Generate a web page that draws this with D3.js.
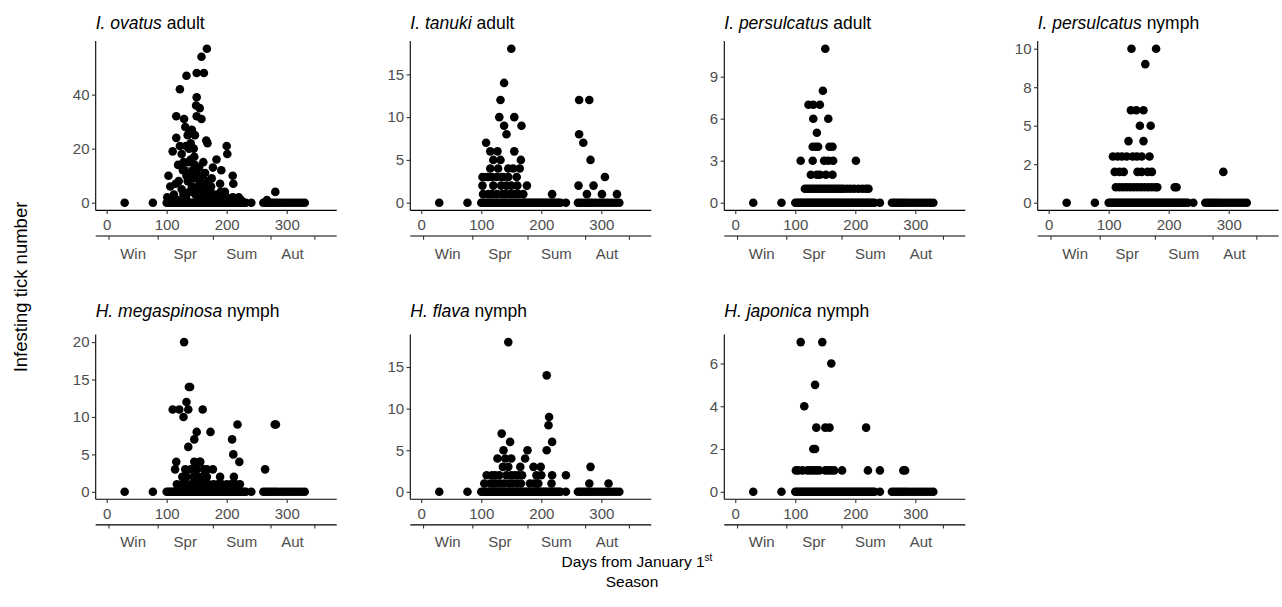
<!DOCTYPE html>
<html>
<head>
<meta charset="utf-8">
<script src="https://cdn.jsdelivr.net/npm/d3@7"></script>
<style>
  body { margin: 0; background: #fff; }
  text { font-family: "Liberation Sans", Arial, sans-serif; }
</style>
</head>
<body>
<div id="chart"></div>
<script>
// sampling days (every host examined, count 0 unless listed below)
var surveyDays = [30, 77, 100, 103, 106, 109, 112, 115, 118, 121, 124, 127, 130, 133, 136, 139, 142, 145, 148, 151,
  154, 157, 160, 163, 166, 169, 172, 175, 178, 181, 184, 187, 190, 193, 196, 199, 202, 205, 208, 211, 214, 217,
  220, 223, 226, 229, 232, 241, 261, 265, 269, 273, 277, 281, 285, 290, 295, 300, 305, 310, 315, 320, 325, 330];

var dayTicks = [0, 100, 200, 300];
var seasonBreaks = [3, 85, 177, 273, 346];
var seasonLabels = ["Win", "Spr", "Sum", "Aut"];

// [day, ticks] for hosts with at least one tick
var ovatusAdult = [[167,57],[158,54],[150,48],[162,48],[133,47],[122,42],[150,39],[149,36],[155,35],[116,32],
  [129,31],[150,32],[158,31],[131,28],[142,27],[147,25],[166,23],[168,22],[116,24],[110,19],[122,21],[132,21],
  [200,21],[201,18],[183,16],[177,13],[191,12],[119,14],[210,10],[211,7],[103,10],[106,6],[115,7],[189,7],
  [197,4],[101,2],[281,4],[267,1],[125,18],[128,15],[130,12],[133,10],[135,8],[137,20],[140,16],[143,12],
  [145,9],[147,14],[150,11],[152,6],[155,8],[157,5],[160,10],[162,4],[165,7],[168,3],[170,2],[172,5],[175,9],
  [178,1],[180,3],[185,2],[190,4],[195,1],[200,2],[205,1],[210,2],[215,1],[220,2],[125,5],[128,3],[132,2],
  [138,4],[142,6],[148,3],[153,2],[158,1],[163,2],[118,1],[120,8],[135,25],[138,26],[145,20],[140,22],[143,4],
  [127,12],[136,15],[141,10],[146,17],[154,13],[161,15],[164,11],[170,8],[174,6],[112,3],[108,1],[224,1]];

var tanukiAdult = [[150,18],[138,14],[132,12],[130,10],[155,10],[138,9],[167,9],[142,8],[108,7],[115,6],[127,6],
  [155,6],[120,5],[132,5],[166,5],[115,4],[128,4],[153,4],[164,4],[102,3],[109,3],[126,3],[137,3],[159,3],
  [102,2],[120,2],[142,2],[176,2],[103,1],[126,1],[148,1],[170,1],[218,1],[263,12],[280,12],[263,8],[270,7],
  [282,5],[262,2],[287,2],[306,3],[276,1],[301,1],[326,1],[112,3],[118,3],[145,3],[150,2],[160,2],[133,2],
  [112,1],[118,1],[135,1],[140,1],[155,1],[162,1],[145,4],[134,3]];

var persulcatusAdult = [[150,11],[146,8],[122,7],[130,7],[141,7],[130,6],[155,6],[136,5],[129,4],[138,4],[157,4],
  [162,4],[109,3],[129,3],[148,3],[163,3],[201,3],[126,2],[136,2],[151,2],[162,2],[141,2],[116,1],[120,1],
  [124,1],[128,1],[132,1],[136,1],[140,1],[144,1],[148,1],[152,1],[156,1],[160,1],[164,1],[168,1],[172,1],
  [176,1],[180,1],[186,1],[192,1],[198,1],[205,1],[212,1],[218,1],[222,1],[134,4],[155,3]];

var persulcatusNymph = [[138,10],[179,10],[161,9],[137,6],[146,6],[158,6],[152,5],[170,5],[133,4],[158,4],
  [107,3],[115,3],[122,3],[130,3],[140,3],[147,3],[155,3],[168,3],[110,2],[118,2],[125,2],[148,2],[155,2],
  [165,2],[172,2],[112,1],[118,1],[124,1],[130,1],[136,1],[142,1],[148,1],[154,1],[160,1],[166,1],[172,1],
  [178,1],[181,1],[210,1],[213,1],[291,2]];

var megaspinosaNymph = [[129,20],[139,14],[137,14],[133,12],[110,11],[121,11],[136,11],[160,11],[128,10],[282,9],
  [280,9],[218,9],[150,8],[173,8],[146,7],[209,7],[136,6],[211,5],[116,4],[146,4],[156,4],[221,4],[114,3],
  [131,3],[150,3],[167,3],[177,3],[264,3],[133,2],[153,2],[167,2],[189,2],[212,2],[117,1],[125,1],[132,1],
  [140,1],[147,1],[155,1],[162,1],[170,1],[178,1],[185,1],[192,1],[200,1],[207,1],[215,1],[222,1],[140,3],
  [145,2],[160,2],[126,2],[155,4],[162,3]];

var flavaNymph = [[145,18],[209,14],[213,9],[212,8],[134,7],[148,6],[218,6],[137,5],[177,5],[209,5],[127,4],
  [150,4],[173,4],[136,3],[165,3],[187,3],[199,3],[282,3],[109,2],[123,2],[142,2],[156,2],[192,2],[218,2],
  [241,2],[115,1],[131,1],[159,1],[181,1],[217,1],[280,1],[312,1],[120,1],[138,1],[146,1],[152,1],[166,1],
  [188,1],[195,1],[140,4],[145,3],[118,2],[130,2],[150,2],[162,2],[168,2],[200,2],[193,1],[125,1],[105,1]];

var japonicaNymph = [[109,7],[145,7],[160,6],[133,5],[115,4],[135,3],[150,3],[157,3],[218,3],[130,2],[133,2],
  [101,1],[105,1],[112,1],[120,1],[125,1],[130,1],[135,1],[140,1],[150,1],[155,1],[160,1],[165,1],[178,1],
  [221,1],[241,1],[280,1],[283,1]];

var panels = [
  {sp: "I. ovatus", stage: " adult", data: ovatusAdult, max: 57, ticks: [0, 20, 40], labels: ["0", "20", "40"], col: 0, row: 0},
  {sp: "I. tanuki", stage: " adult", data: tanukiAdult, max: 18, ticks: [0, 5, 10, 15], labels: ["0", "5", "10", "15"], col: 1, row: 0},
  {sp: "I. persulcatus", stage: " adult", data: persulcatusAdult, max: 11, ticks: [0, 3, 6, 9], labels: ["0", "3", "6", "9"], col: 2, row: 0},
  {sp: "I. persulcatus", stage: " nymph", data: persulcatusNymph, max: 10, ticks: [0, 2.5, 5, 7.5, 10], labels: ["0", "2", "5", "8", "10"], col: 3, row: 0},
  {sp: "H. megaspinosa", stage: " nymph", data: megaspinosaNymph, max: 20, ticks: [0, 5, 10, 15, 20], labels: ["0", "5", "10", "15", "20"], col: 0, row: 1},
  {sp: "H. flava", stage: " nymph", data: flavaNymph, max: 18, ticks: [0, 5, 10, 15], labels: ["0", "5", "10", "15"], col: 1, row: 1},
  {sp: "H. japonica", stage: " nymph", data: japonicaNymph, max: 7, ticks: [0, 2, 4, 6], labels: ["0", "2", "4", "6"], col: 2, row: 1}
];

var W = 1282, H = 607;
var colX = [95.7, 410.3, 724.3, 1037.7];
var panelW = 241;
var rows = [{top: 41, bottom: 210.4, title: 29}, {top: 334.6, bottom: 499.3, title: 317}];
var tickFont = 15, titleFont = 17.5;

var svg = d3.select("#chart").append("svg")
  .attr("width", W).attr("height", H);

var x = d3.scaleLinear().domain([-18.25, 383.25]);

panels.forEach(function (p) {
  var r = rows[p.row];
  var g = svg.append("g").attr("transform", "translate(" + colX[p.col] + ",0)");
  var px = x.copy().range([0, panelW]);
  var y = d3.scaleLinear().domain([-0.05 * p.max, 1.05 * p.max]).range([r.bottom, r.top]);

  // title
  var t = g.append("text").attr("x", 0).attr("y", r.title)
    .attr("font-size", titleFont).attr("fill", "#000");
  t.append("tspan").attr("font-style", "italic").text(p.sp);
  t.append("tspan").text(p.stage);

  // points: zeros on every survey day, then hosts with ticks
  var pts = surveyDays.map(function (d) { return [d, 0]; }).concat(p.data);
  g.selectAll("circle").data(pts).enter().append("circle")
    .attr("cx", function (d) { return px(d[0]); })
    .attr("cy", function (d) { return y(d[1]); })
    .attr("r", 4.3)
    .attr("fill", "#000");

  // y axis
  var ya = g.append("g").call(d3.axisLeft(y).tickValues(p.ticks)
    .tickFormat(function (d, i) { return p.labels[i]; }).tickSize(3.7).tickPadding(2.5));
  ya.select(".domain").attr("d", "M0," + r.top + "V" + r.bottom).attr("stroke-width", 1.1);
  ya.selectAll(".tick line").attr("stroke", "#333").attr("stroke-width", 1.1);
  ya.selectAll(".tick text").attr("font-size", tickFont).attr("fill", "#4D4D4D")
    .attr("font-family", "Liberation Sans, Arial, sans-serif");

  // days axis
  var xa = g.append("g").attr("transform", "translate(0," + r.bottom + ")")
    .call(d3.axisBottom(px).tickValues(dayTicks).tickSize(3.7).tickPadding(5));
  xa.select(".domain").attr("d", "M0,0H" + panelW).attr("stroke-width", 1.1);
  xa.selectAll(".tick line").attr("stroke", "#333").attr("stroke-width", 1.1);
  xa.selectAll(".tick text").attr("font-size", tickFont).attr("fill", "#4D4D4D")
    .attr("font-family", "Liberation Sans, Arial, sans-serif");

  // season axis: ticks on boundaries, labels between
  var sy = r.bottom + 25.6;
  var sa = g.append("g").attr("transform", "translate(0," + sy + ")")
    .call(d3.axisBottom(px).tickValues(seasonBreaks).tickSize(3.7).tickFormat(""));
  sa.select(".domain").attr("d", "M0,0H" + panelW).attr("stroke-width", 1.1);
  sa.selectAll(".tick line").attr("stroke", "#333").attr("stroke-width", 1.1);
  g.selectAll(".season").data(seasonLabels).enter().append("text")
    .attr("class", "season")
    .attr("x", function (d, i) { return (px(seasonBreaks[i]) + px(seasonBreaks[i + 1])) / 2; })
    .attr("y", sy + 22.5)
    .attr("text-anchor", "middle")
    .attr("font-size", tickFont).attr("fill", "#4D4D4D")
    .text(function (d) { return d; });
});

// axis titles
svg.append("text")
  .attr("transform", "translate(27,287) rotate(-90)")
  .attr("text-anchor", "middle").attr("font-size", 18.5)
  .text("Infesting tick number");

var xt = svg.append("text").attr("x", 637).attr("y", 567)
  .attr("text-anchor", "middle").attr("font-size", 15.5);
xt.append("tspan").text("Days from January 1");
xt.append("tspan").attr("font-size", 10).attr("dy", -6).text("st");

svg.append("text").attr("x", 632).attr("y", 587)
  .attr("text-anchor", "middle").attr("font-size", 15.5)
  .text("Season");
</script>
</body>
</html>
